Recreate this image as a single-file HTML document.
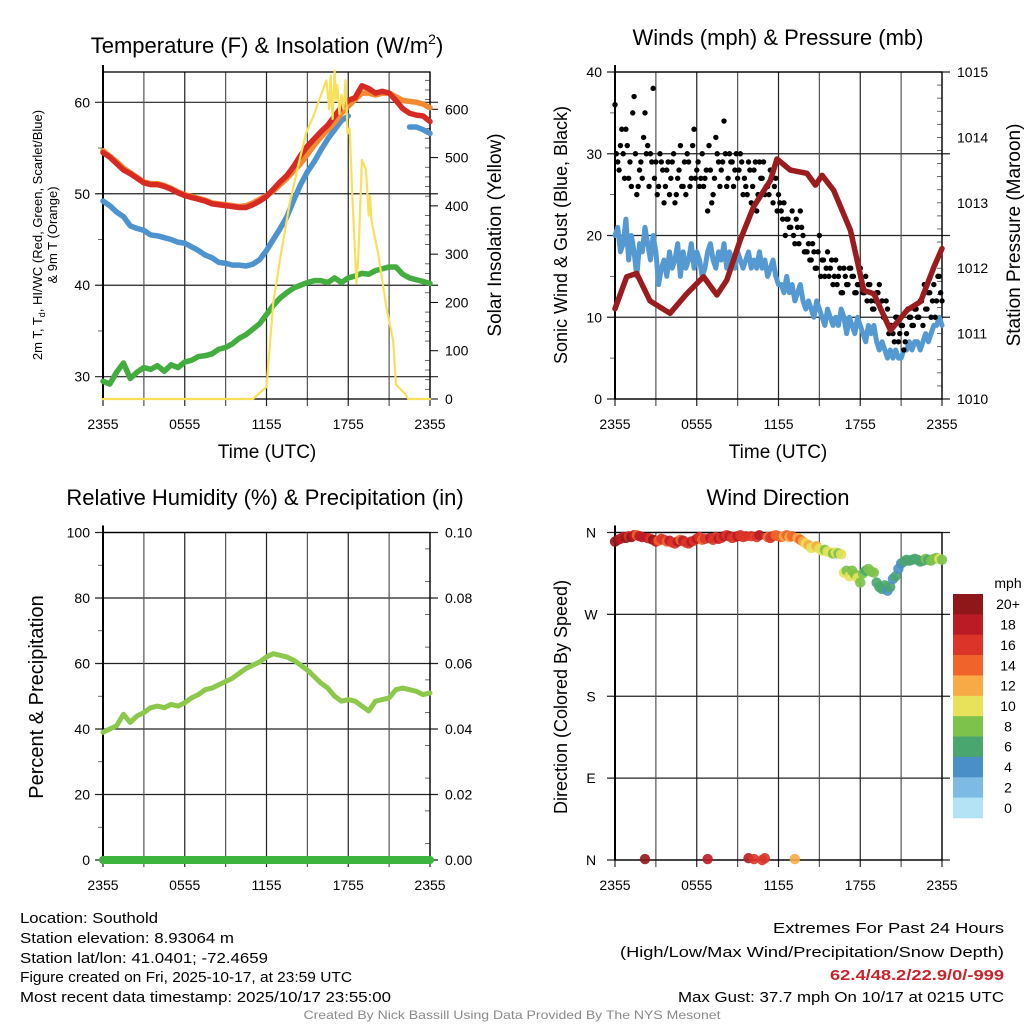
<!DOCTYPE html>
<html><head><meta charset="utf-8"><style>
html,body{margin:0;padding:0;background:#fff}
svg{display:block;font-family:"Liberation Sans",Arial,sans-serif}
</style></head><body>
<svg id="fig" width="1024" height="1024" viewBox="0 0 1024 1024" xmlns="http://www.w3.org/2000/svg">
<rect x="0" y="0" width="1024" height="1024" fill="#fff"/>
<text x="267" y="53" font-size="22" text-anchor="middle">Temperature (F) &amp; Insolation (W/m<tspan dy="-9" font-size="14">2</tspan><tspan dy="9">)</tspan></text>
<text x="778" y="45" font-size="22" text-anchor="middle">Winds (mph) &amp; Pressure (mb)</text>
<text x="265" y="505" font-size="22" text-anchor="middle">Relative Humidity (%) &amp; Precipitation (in)</text>
<text x="778" y="505" font-size="22" text-anchor="middle">Wind Direction</text>
<text transform="translate(42,235) rotate(-90)" font-size="13" text-anchor="middle">2m T, T<tspan dy="3" font-size="9">d</tspan><tspan dy="-3">, HI/WC (Red, Green, Scarlet/Blue)</tspan></text>
<text transform="translate(57,235) rotate(-90)" font-size="13" text-anchor="middle">&amp; 9m T (Orange)</text>
<text transform="translate(501,235) rotate(-90)" font-size="19" text-anchor="middle">Solar Insolation (Yellow)</text>
<text x="267" y="458" font-size="19" text-anchor="middle">Time (UTC)</text>
<text transform="translate(567,235) rotate(-90)" font-size="18" text-anchor="middle">Sonic Wind &amp; Gust (Blue, Black)</text>
<text transform="translate(1020,235) rotate(-90)" font-size="19" text-anchor="middle">Station Pressure (Maroon)</text>
<text x="778" y="458" font-size="19" text-anchor="middle">Time (UTC)</text>
<text transform="translate(43,697) rotate(-90)" font-size="20" text-anchor="middle">Percent &amp; Precipitation</text>
<text transform="translate(567,697) rotate(-90)" font-size="18" text-anchor="middle">Direction (Colored By Speed)</text>
<g font-size="15">
<text x="20" y="923" textLength="138" lengthAdjust="spacingAndGlyphs">Location: Southold</text>
<text x="20" y="943" textLength="214" lengthAdjust="spacingAndGlyphs">Station elevation: 8.93064 m</text>
<text x="20" y="963" textLength="248" lengthAdjust="spacingAndGlyphs">Station lat/lon: 41.0401; -72.4659</text>
<text x="20" y="982" textLength="332" lengthAdjust="spacingAndGlyphs">Figure created on Fri, 2025-10-17, at 23:59 UTC</text>
<text x="20" y="1002" textLength="371" lengthAdjust="spacingAndGlyphs">Most recent data timestamp: 2025/10/17 23:55:00</text>
</g>
<g font-size="15" text-anchor="end">
<text x="1004" y="933" textLength="231" lengthAdjust="spacingAndGlyphs">Extremes For Past 24 Hours</text>
<text x="1004" y="957" textLength="384" lengthAdjust="spacingAndGlyphs">(High/Low/Max Wind/Precipitation/Snow Depth)</text>
<text x="1004" y="980" font-weight="bold" fill="#c8242c" textLength="174" lengthAdjust="spacingAndGlyphs">62.4/48.2/22.9/0/-999</text>
<text x="1004" y="1002" textLength="326" lengthAdjust="spacingAndGlyphs">Max Gust: 37.7 mph On 10/17 at 0215 UTC</text>
</g>
<text x="512" y="1019" font-size="12" fill="#8a8a8a" text-anchor="middle" textLength="417" lengthAdjust="spacingAndGlyphs">Created By Nick Bassill Using Data Provided By The NYS Mesonet</text>
</svg>
<script>
// ---------- data ----------
const timeLabels = ["2355","0555","1155","1755","2355"];
const halfHourStep = 0.5;
const tempRed = [54.5,54,53.3,52.6,52.2,51.7,51.2,51,51,50.8,50.5,50.1,49.8,49.6,49.4,49.2,48.9,48.8,48.7,48.6,48.5,48.5,48.8,49.2,49.7,50.5,51.3,52,53,54.2,55.2,56,56.8,57.5,58.5,59.5,60.2,60.5,61.8,61.5,61,61.2,61,60.2,59.3,58.8,58.6,58.5,57.9];
const tempOrange = [54.7,54.1,53.5,52.8,52.3,51.8,51.3,51.1,51.1,50.9,50.6,50.2,49.9,49.7,49.5,49.3,49,48.9,48.8,48.7,48.6,48.7,49,49.4,49.8,50.3,51,51.7,52.5,53.3,54.3,55.3,56.2,57,57.8,58.8,59.6,60.3,61,61,60.8,61,61,60.6,60.2,60.1,60,59.8,59.4];
const tempBlue = [49.2,48.7,48,47.5,46.5,46.2,46,45.5,45.4,45.2,45,44.7,44.6,44.2,43.8,43.3,43,42.5,42.4,42.2,42.2,42.1,42.3,42.8,43.8,45,46.2,47.5,49.3,51,52.4,53.5,54.8,56,57,58,58.5,null,null,null,null,null,null,null,null,57.3,57.3,57,56.6];
const tempGreen = [29.5,29.2,30.5,31.5,29.8,30.5,31,30.8,31.2,30.6,31.3,31,31.6,31.8,32.2,32.3,32.5,33,33.2,33.6,34.2,34.6,35.2,35.8,36.8,37.8,38.6,39.2,39.7,40,40.3,40.5,40.5,40.3,40.8,40.3,40.8,41,41.3,41.2,41.6,41.8,42,42,41.2,40.8,40.6,40.4,40.2];
const solarTimes = [0,11.0,12.0,12.1,12.5,13,13.7,14.3,14.9,15.5,16.0,16.4,16.6,16.7,16.85,17.0,17.1,17.2,17.35,17.5,17.65,17.8,17.95,18.1,18.3,18.6,18.75,19.0,19.3,19.5,19.6,19.7,20.2,20.8,21.3,21.5,22.2,22.4,24];
const solarValues = [0,0,25,60,200,290,405,480,550,590,630,660,600,670,580,680,620,650,590,630,600,660,550,560,420,240,300,495,475,380,420,370,300,190,120,30,10,0,0];
const fifthHourStep = 0.2;
const windSpeed = [20,21,18,19,22,17,20,18,15,19,18, 21,19,17,20,18,14,16,17,15,18, 16,17,19,15,18,16,17,19,16,18, 17,15,16,18,19,17,16,18,17,19, 16,18,17,16,18,17,16,17,18,16, 17,16,18,16,17,15,16,17,15,14, 14,13,15,13,14,12,13,14,12,11, 12,11,10,12,11,10,9,11,10,9, 10,9,11,10,8,10,9,8,10,9, 8,7,9,8,9,7,6,7,6,5, 6,5,6,5,5,6,6,7,6,7, 7,6,7,8,7,8,9,9,10,9];
const windGust = [36,29,31,30,33,27,26,37,25,28,27, 35,31,30,38,29,26,29,24,28,25, 29,24,27,31,26,25,29,27,33,28, 26,30,27,23,28,25,32,29,28,34, 26,30,29,28,27,30,25,26,29,24, 28,23,29,27,25,26,28,24,27,25, 23,24,22,21,23,19,21,23,20,18, 19,17,18,16,20,17,15,18,16,14, 17,15,13,16,14,16,15,13,14,16, 13,15,14,12,11,13,14,12,10,11, 9,8,10,7,9,6,8,10,9,11, 10,12,9,11,13,10,14,12,15,12];
const windGustOffset = 0.1;
const windGust2 = [30,28,33,27,31,29,35,30,26,29, 32,30,26,29,27,25,30,28,26,29, 27,30,25,28,26,29,30,26,31,27, 29,27,26,28,31,24,27,30,26,29, 30,27,29,26,30,28,29,27,25,28, 26,29,25,27,29,26,25,27,26,23, 24,22,20,22,21,20,22,19,21,18, 18,17,19,16,18,15,17,16,15,17, 15,14,16,13,15,14,16,15,13,14, 14,13,12,14,11,12,13,11,10,12, 8,9,7,10,8,9,7,11,10,9, 11,10,12,14,11,13,12,10,15,13];
const pressureTimes = [0,0.86,1.59,2.57,4.04,5.27,6.5,7.48,8.21,9.19,10.17,11.4,11.89,12.87,14.09,14.71,15.2,16.05,17.28,18.26,19.0,20.22,21.45,22.43,23.41,24];
const pressureValues = [1011.38,1011.87,1011.92,1011.5,1011.31,1011.61,1011.87,1011.59,1011.82,1012.43,1012.94,1013.34,1013.67,1013.5,1013.45,1013.27,1013.42,1013.19,1012.58,1011.66,1011.61,1011.05,1011.36,1011.49,1012.02,1012.3];
const humidity = [39,40,41,44.5,42,44,45,46.5,47,46.5,47.5,47,48,49.5,50.5,52,52.5,53.5,54.5,55.5,57,58.5,59.5,60.5,62,63,62.5,62,61,59.5,58,56,54,52.5,50,48.5,49,48.5,47,45.5,48.5,49,49.5,52,52.5,52,51.5,50.5,51];
const precipitation = [0,0,0,0,0,0,0,0,0,0,0,0,0,0,0,0,0,0,0,0,0,0,0,0,0];
const windDirection = [350,352,353,355,354,356,355,357,357,356,355, 1,354,353,352,350,351,353,352,350,351, 349,348,350,352,351,349,348,350,351,353, 355,352,353,1,354,352,355,353,354,356, 357,356,354,355,356,357,355,356,2,356, 1,355,357,0,2,355,354,356,357,356, 355,356,357,355,356,1,354,352,350,348, 346,343,344,345,342,340,341,339,338,337, 338,337,336,316,318,312,318,314,310,305, 315,318,320,317,316,305,300,298,302,296, 300,309,312,320,326,328,330,329,330,331, 330,328,329,331,330,329,331,332,331,330];
const speedBins = [0,2,4,6,8,10,12,14,16,18,20];
const speedBinLabels = ["0","2","4","6","8","10","12","14","16","18","20+"];
const speedColors = ["#b5e3f6","#7dbbe5","#4a8fc7","#49a66f","#7cc24b","#e7e25a","#f7aa45","#f0642c","#dc3428","#bb1b24","#8f1719"];

// ---------- helpers ----------
const NS = "http://www.w3.org/2000/svg";
const svg = document.getElementById("fig");
function el(tag, parent){ const e=document.createElementNS(NS,tag); parent.appendChild(e); return e; }
function lin(d0,d1,r0,r1){ return v => r0 + (v-d0)*(r1-r0)/(d1-d0); }
function pathFrom(xs, ys, sx, sy){
  let d="", pen=false;
  for(let i=0;i<xs.length;i++){
    if(ys[i]===null||ys[i]===undefined){pen=false;continue;}
    d += (pen?"L":"M")+sx(xs[i]).toFixed(2)+","+sy(ys[i]).toFixed(2);
    pen=true;
  }
  return d;
}
function idxTimes(n, step, off){ const t=[]; for(let i=0;i<n;i++) t.push(i*step+(off||0)); return t; }
function speedColor(s){ let k=0; for(let i=0;i<speedBins.length;i++){ if(s>=speedBins[i]) k=i; } return speedColors[k]; }

function frame(g, name, x0,x1,y0,y1, sx){
  for(let h=0;h<=24;h+=3){
    const l=el("line",g);
    
    
    l.setAttribute("x1",sx(h));l.setAttribute("x2",sx(h));l.setAttribute("y1",y0);l.setAttribute("y2",y1+7);
    l.setAttribute("stroke",(h%6===0)?"#222":"#555");l.setAttribute("stroke-width",1.2);
  }
  for(let i=0;i<timeLabels.length;i++){
    const t=el("text",g);
    
    
    t.setAttribute("x",sx(i*6));t.setAttribute("y",y1+30);t.setAttribute("font-size","14");t.setAttribute("text-anchor","middle");
    t.textContent=timeLabels[i];
  }
  const r=el("rect",g);
  
  
  r.setAttribute("x",x0);r.setAttribute("y",y0);r.setAttribute("width",x1-x0);r.setAttribute("height",y1-y0);
  r.setAttribute("fill","none");r.setAttribute("stroke","#000");r.setAttribute("stroke-width",1.3);
  const lb=el("line",g);
  
  
  lb.setAttribute("x1",x0);lb.setAttribute("x2",x0);lb.setAttribute("y1",y0-7);lb.setAttribute("y2",y1);lb.setAttribute("stroke","#000");lb.setAttribute("stroke-width",2);
}
function yAxis(g, name, ticks, labels, sy, x0, x1, side, gridX0, gridX1, minor){
  for(let i=0;i<ticks.length;i++){
    const y=sy(ticks[i]);
    if(gridX0!==null){
      const l=el("line",g);
      
      
      l.setAttribute("x1",gridX0);l.setAttribute("x2",gridX1);l.setAttribute("y1",y);l.setAttribute("y2",y);l.setAttribute("stroke","#222");l.setAttribute("stroke-width",1.2);
    }
    const t=el("text",g);
    
    
    t.setAttribute("y",y+5);t.setAttribute("font-size","14");
    if(side==="left"){t.setAttribute("x",x0-13);t.setAttribute("text-anchor","end");}
    else {t.setAttribute("x",x1+15);t.setAttribute("text-anchor","start");}
    t.textContent=labels[i];
  }
  if(minor){
    for(const v of minor){
      const y=sy(v);
      const l=el("line",g);
      
      
      if(side==="left"){l.setAttribute("x1",x0-5);l.setAttribute("x2",x0);}
      else {l.setAttribute("x1",x1-5);l.setAttribute("x2",x1);}
      l.setAttribute("y1",y);l.setAttribute("y2",y);l.setAttribute("stroke","#444");l.setAttribute("stroke-width",0.8);
    }
  }
}
function line(g,name,xs,ys,sx,sy,color,w){
  const p=el("path",g);
  
  
  p.setAttribute("d",pathFrom(xs,ys,sx,sy));p.setAttribute("fill","none");p.setAttribute("stroke",color);
  p.setAttribute("stroke-width",w);p.setAttribute("stroke-linejoin","round");p.setAttribute("stroke-linecap","round");
  return p;
}

// ---------- panel 1: temperature ----------
(function(){
  const g=el("g",svg);
  
  
  const x0=103,x1=430,y0=72,y1=399;
  const sx=lin(0,24,x0,x1);
  const sy=lin(30,60,376.7,102.3);
  const sr=lin(0,600,399,109.3);
  yAxis(g,'temperature-y',[30,40,50,60],["30","40","50","60"],sy,x0,x1,"left",x0-8,x1+8,[35,45,55]);
  const rv=[],rl=[],rm=[];
  for(let v=0;v<=600;v+=100){rv.push(v);rl.push(String(v));}
  for(let v=20;v<=660;v+=20){ if(v%100) rm.push(v); }
  yAxis(g,'insolation-y',rv,rl,sr,x0,x1,"right",null,null,rm);
  for(const v of rv){ const l=el("line",g);
    
    
    l.setAttribute("x1",x1);l.setAttribute("x2",x1+8);l.setAttribute("y1",sr(v));l.setAttribute("y2",sr(v));l.setAttribute("stroke","#000"); }
  frame(g,'temperature',x0,x1,y0,y1,sx);
  const th=idxTimes(tempRed.length,halfHourStep);
  line(g,'dewpoint-line',th,tempGreen,sx,sy,"#44ad3f",5.5);
  line(g,'heat-index-windchill-line',th,tempBlue,sx,sy,"#4d93cf",5.5);
  line(g,'temperature-9m-line',th,tempOrange,sx,sy,"#f08a33",5.5);
  line(g,'temperature-2m-line',th,tempRed,sx,sy,"#d62a23",5.5);
  line(g,'solar-insolation-line',solarTimes,solarValues,sx,sr,"#f8e05a",2.2);
})();

// ---------- panel 2: winds ----------
(function(){
  const g=el("g",svg);
  
  
  const x0=615,x1=942,y0=72,y1=399;
  const sx=lin(0,24,x0,x1);
  const sy=lin(0,40,399,72);
  const sp=lin(1010,1015,399,72);
  yAxis(g,'wind-y',[0,10,20,30,40],["0","10","20","30","40"],sy,x0,x1,"left",x0-8,x1+8,[5,15,25,35]);
  const pv=[1010,1011,1012,1013,1014,1015], pm=[];
  for(let v=1010.2;v<1015;v+=0.2){ pm.push(v); }
  yAxis(g,'pressure-y',pv,pv.map(String),sp,x0,x1,"right",null,null,pm);
  frame(g,'winds',x0,x1,y0,y1,sx);
  const tf=idxTimes(windSpeed.length,fifthHourStep);
  line(g,'sustained-wind-line',tf,windSpeed,sx,sy,"#5599d3",5);
  for(let i=0;i<windGust.length;i++){
    const c=el("circle",g);
    
    
    c.setAttribute("cx",sx(tf[i]));c.setAttribute("cy",sy(windGust[i]));c.setAttribute("r",2.7);c.setAttribute("fill","#000");
  }
  const tf2=idxTimes(windGust2.length,fifthHourStep,windGustOffset);
  for(let i=0;i<windGust2.length;i++){
    const c=el("circle",g);
    
    
    c.setAttribute("cx",sx(tf2[i]));c.setAttribute("cy",sy(windGust2[i]));c.setAttribute("r",2.7);c.setAttribute("fill","#000");
  }
  line(g,'pressure-line',pressureTimes,pressureValues,sx,sp,"#9b1c1f",5.5);
})();

// ---------- panel 3: humidity ----------
(function(){
  const g=el("g",svg);
  
  
  const x0=103,x1=430,y0=532.5,y1=860;
  const sx=lin(0,24,x0,x1);
  const sy=lin(0,100,860,532.5);
  const spr=lin(0,0.1,860,532.5);
  yAxis(g,'humidity-y',[0,20,40,60,80,100],["0","20","40","60","80","100"],sy,x0,x1,"left",x0-8,x1+8,[10,30,50,70,90]);
  yAxis(g,'precip-y',[0,0.02,0.04,0.06,0.08,0.1],["0.00","0.02","0.04","0.06","0.08","0.10"],spr,x0,x1,"right",null,null,[0.005,0.015,0.025,0.035,0.045,0.055,0.065,0.075,0.085,0.095]);
  frame(g,'humidity',x0,x1,y0,y1,sx);
  line(g,'relative-humidity-line',idxTimes(humidity.length,halfHourStep),humidity,sx,sy,"#8cc84b",5);
  line(g,'precipitation-line',idxTimes(precipitation.length,1),precipitation,sx,spr,"#3db43d",8);
})();

// ---------- panel 4: wind direction ----------
(function(){
  const g=el("g",svg);
  
  
  const x0=615,x1=942,y0=532.5,y1=860;
  const sx=lin(0,24,x0,x1);
  const sy=lin(0,360,860,532.5);
  const dv=[0,90,180,270,360], dl=["N","E","S","W","N"];
  for(let i=0;i<dv.length;i++){
    const y=sy(dv[i]);
    const l=el("line",g);
    
    
    l.setAttribute("x1",x0-8);l.setAttribute("x2",x1+8);l.setAttribute("y1",y);l.setAttribute("y2",y);l.setAttribute("stroke","#222");l.setAttribute("stroke-width",1.2);
    const t=el("text",g);
    
    
    t.setAttribute("x",x0-24);t.setAttribute("y",y+5);t.setAttribute("font-size","14");t.setAttribute("text-anchor","middle");
    t.textContent=dl[i];
  }
  frame(g,'direction',x0,x1,y0,y1,sx);
  const tf=idxTimes(windDirection.length,fifthHourStep);
  for(let i=0;i<windDirection.length;i++){
    const c=el("circle",g);
    
    
    c.setAttribute("cx",sx(tf[i]));c.setAttribute("cy",sy(windDirection[i]));c.setAttribute("r",5.2);
    c.setAttribute("fill",speedColor(windSpeed[i]));c.setAttribute("fill-opacity",0.9);
  }
  const cb=el("g",svg);
  
  
  const top=594, bh=(818-594)/speedColors.length;
  const mt=el("text",cb);
  
  
  mt.setAttribute("x",1008);mt.setAttribute("y",588);mt.setAttribute("font-size","14");mt.setAttribute("text-anchor","middle");mt.textContent="mph";
  for(let i=0;i<speedColors.length;i++){
    const k=speedColors.length-1-i;
    const r=el("rect",cb);
    
    
    r.setAttribute("x",953);r.setAttribute("y",top+i*bh);r.setAttribute("width",30);r.setAttribute("height",bh+0.3);r.setAttribute("fill",speedColors[k]);
    const t=el("text",cb);
    
    
    t.setAttribute("x",1008);t.setAttribute("y",top+i*bh+bh/2+5);t.setAttribute("font-size","14");t.setAttribute("text-anchor","middle");
    t.textContent=speedBinLabels[k];
  }
})();
</script>
</body></html>
